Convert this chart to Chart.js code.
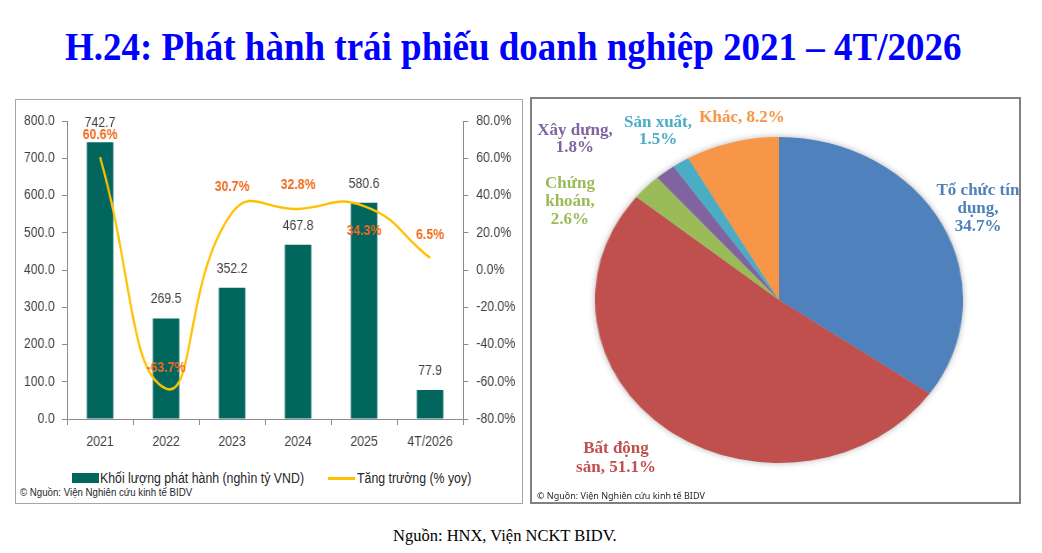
<!DOCTYPE html>
<html lang="vi">
<head>
<meta charset="UTF-8">
<title>H.24: Phát hành trái phiếu doanh nghiệp 2021 – 4T/2026</title>
<script src="https://cdn.jsdelivr.net/npm/chart.js@4.4.0/dist/chart.umd.min.js"></script>
<style>
*{box-sizing:border-box;margin:0;padding:0}
body{width:1042px;height:553px;background:#fff;position:relative;overflow:hidden;font-family:"Liberation Sans",Arial,sans-serif;color:#404040}
.title{position:absolute;left:65px;top:26px;font:bold 37px/37px "Liberation Serif",serif;color:#0000ff;white-space:nowrap;transform:scaleY(1.1);transform-origin:0 0}
.panel{position:absolute;background:#fff}
.p1{left:15px;top:99px;width:508px;height:405px;border:1px solid #a6a6a6}
.p2{left:530px;top:97px;width:491px;height:407px;border:2px solid #808080}
.abs{position:absolute}
/* khung bieu do cot: ve rong hon roi nen ngang 0.88 cho giong font hep */
#barWrap{left:16px;top:101px;width:572px;height:354px;transform:scaleX(0.88);transform-origin:0 0}
#pieWrap{left:616px;top:137px;width:326px;height:326px;transform:scaleX(1.129);filter:drop-shadow(0 0 3px rgba(0,0,0,.3))}
.sq{position:absolute;white-space:nowrap;transform:scaleX(0.88);transform-origin:0 50%;color:#262626}
.leg{font-size:14px;line-height:16px}
.plab{position:absolute;font:bold 17px/18px "Liberation Serif",serif;text-align:center;white-space:nowrap;transform:translateX(-50%)}
.foot{position:absolute;left:393px;top:527px;font:16.5px/18px "Liberation Serif",serif;color:#000;white-space:nowrap}
</style>
</head>
<body>
<div class="title">H.24: Phát hành trái phiếu doanh nghiệp 2021 – 4T/2026</div>

<div class="panel p1"></div>
<div class="panel p2"></div>

<div class="abs" id="barWrap"><canvas id="barChart"></canvas></div>

<div class="abs" style="left:72px;top:473px;width:27px;height:10px;background:#00665e"></div>
<div class="sq leg" style="left:100px;top:470px">Khối lượng phát hành (nghìn tỷ VND)</div>
<div class="abs" style="left:328px;top:477px;width:27px;height:3px;background:#ffc000"></div>
<div class="sq leg" style="left:357px;top:470px">Tăng trưởng (% yoy)</div>
<div class="sq" style="left:20px;top:486px;font-size:11px">© Nguồn: Viện Nghiên cứu kinh tế BIDV</div>

<div class="abs" id="pieWrap"><canvas id="pieChart"></canvas></div>

<div class="plab" style="left:978px;top:181px;color:#4f81bd">Tổ chức tín<br>dụng,<br>34.7%</div>
<div class="plab" style="left:616px;top:438px;line-height:19px;color:#c0504d">Bất động<br>sản, 51.1%</div>
<div class="plab" style="left:570px;top:174px;color:#9bbb59">Chứng<br>khoán,<br>2.6%</div>
<div class="plab" style="left:575px;top:121px;line-height:17px;color:#8064a2">Xây dựng,<br>1.8%</div>
<div class="plab" style="left:658px;top:113px;line-height:17px;color:#4bacc6">Sản xuất,<br>1.5%</div>
<div class="plab" style="left:742px;top:108px;color:#f79646">Khác, 8.2%</div>
<div class="abs" style="left:537px;top:489px;font:9px 'Noto Sans',sans-serif;color:#262626;white-space:nowrap">© Nguồn: Viện Nghiên cứu kinh tế BIDV</div>

<div class="foot">Nguồn: HNX, Viện NCKT BIDV.</div>

<script>
// du lieu
const years = ["2021", "2022", "2023", "2024", "2025", "4T/2026"];
const volume = [742.7, 269.5, 352.2, 467.8, 580.6, 77.9];
const growth = [60.6, -63.7, 30.7, 32.8, 34.3, 6.5];
const sectors = ["Tổ chức tín dụng", "Bất động sản", "Chứng khoán", "Xây dựng", "Sản xuất", "Khác"];
const shares = [34.7, 51.1, 2.6, 1.8, 1.5, 8.2];
const sectorColors = ["#4f81bd", "#c0504d", "#9bbb59", "#8064a2", "#4bacc6", "#f79646"];

const sans = '"Liberation Sans", Arial, sans-serif';
const axisColor = "#8c8c8c", tickColor = "#404040";
const growthShift = [-22, -21, -26, -24, 25, -23];

const valueLabels = {
  id: "valueLabels",
  afterDatasetsDraw(chart) {
    const ctx = chart.ctx;
    ctx.save();
    ctx.textAlign = "center";
    ctx.textBaseline = "middle";
    ctx.font = "14px " + sans;
    ctx.fillStyle = "#404040";
    chart.getDatasetMeta(0).data.forEach((bar, i) => ctx.fillText(volume[i].toFixed(1), bar.x, bar.y - 19));
    ctx.font = "bold 14px " + sans;
    ctx.fillStyle = "#f26b1d";
    chart.getDatasetMeta(1).data.forEach((pt, i) => ctx.fillText(growth[i].toFixed(1) + "%", pt.x, pt.y + growthShift[i]));
    ctx.restore();
  }
};

new Chart(document.getElementById("barChart"), {
  type: "bar",
  data: {
    labels: years,
    datasets: [
      { label: "Khối lượng phát hành (nghìn tỷ VND)", data: volume, backgroundColor: "#00665e", yAxisID: "y", barPercentage: 0.4, categoryPercentage: 1, order: 2 },
      { label: "Tăng trưởng (% yoy)", type: "line", data: growth, borderColor: "#ffc000", borderWidth: 2.5, pointRadius: 0, tension: 0.5, yAxisID: "y1", order: 1 }
    ]
  },
  options: {
    responsive: true, maintainAspectRatio: false, animation: false,
    layout: { padding: { top: 20, left: 0, right: 0, bottom: 0 } },
    plugins: { legend: { display: false }, tooltip: { enabled: false } },
    scales: {
      x: {
        grid: { drawOnChartArea: false, offset: true, tickLength: 6, color: axisColor },
        border: { color: axisColor },
        ticks: { color: tickColor, font: { size: 14, family: sans }, padding: 9 },
        afterFit(s) { s.height = 36; }
      },
      y: {
        min: 0, max: 800,
        grid: { drawOnChartArea: false, tickLength: 6, color: axisColor },
        border: { color: axisColor },
        ticks: { stepSize: 100, color: tickColor, font: { size: 14, family: sans }, padding: 8, callback: v => v.toFixed(1) },
        afterFit(s) { s.width = 58; }
      },
      y1: {
        position: "right", min: -80, max: 80,
        grid: { drawOnChartArea: false, tickLength: 6, color: axisColor },
        border: { color: axisColor },
        ticks: { stepSize: 20, color: tickColor, font: { size: 14, family: sans }, padding: 9, callback: v => v.toFixed(1) + "%" },
        afterFit(s) { s.width = 64; }
      }
    }
  },
  plugins: [valueLabels]
});

new Chart(document.getElementById("pieChart"), {
  type: "pie",
  data: {
    labels: sectors,
    datasets: [{ data: shares, backgroundColor: sectorColors, borderWidth: 0 }]
  },
  options: {
    responsive: true, maintainAspectRatio: false, animation: false,
    layout: { padding: 0 },
    plugins: { legend: { display: false }, tooltip: { enabled: false } }
  }
});
</script>
</body>
</html>
